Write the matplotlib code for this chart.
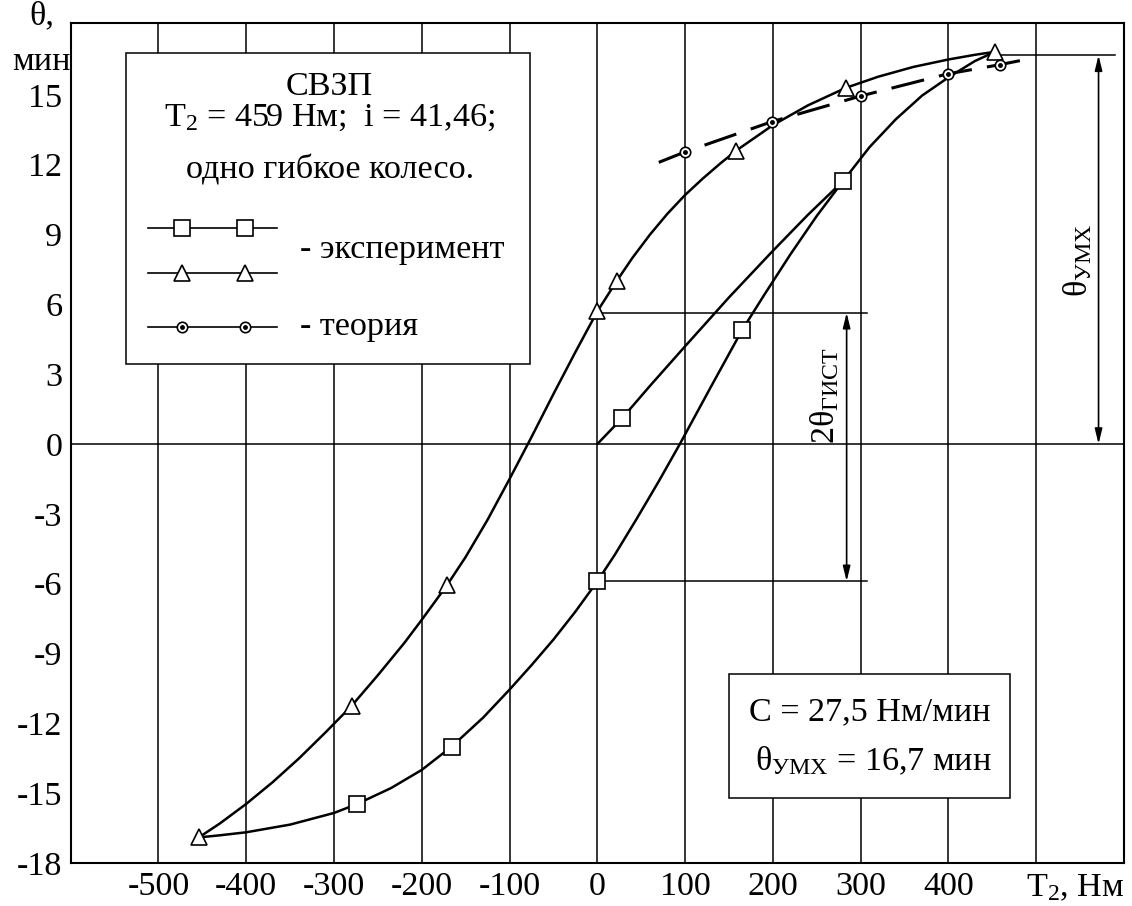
import matplotlib.pyplot as plt
from matplotlib.patches import Rectangle

plt.rcParams['font.family'] = ['Liberation Serif', 'DejaVu Serif']
plt.rcParams['mathtext.fontset'] = 'custom'
plt.rcParams['mathtext.rm'] = 'Liberation Serif'
plt.rcParams['mathtext.it'] = 'Liberation Serif:italic'

# Initial loading curve (from 0)
init_x = [0, 28, 60, 100, 150, 200, 240, 280]
init_y = [0.0, 1.1, 2.5, 4.2, 6.3, 8.3, 9.85, 11.3]

# Upper branch (triangles)
up_x = [-454, -430, -400, -370, -340, -310, -280, -250, -220, -200, -171, -150,
        -125, -100, -75, -50, -25, 0, 22, 40, 60, 80, 100, 120, 140, 158, 200,
        240, 283, 320, 360, 400, 430, 453]
up_y = [-16.9, -16.3, -15.46, -14.53, -13.51, -12.4, -11.25, -9.93, -8.55, -7.55,
        -6.05, -4.85, -3.25, -1.5, 0.3, 2.15, 3.95, 5.7, 7.0, 8.0, 9.0, 9.9, 10.7,
        11.4, 12.05, 12.6, 13.7, 14.55, 15.3, 15.78, 16.2, 16.52, 16.72, 16.85]

# Lower branch (squares)
low_x = [453, 430, 400, 370, 340, 310, 280, 250, 220, 190, 165, 130, 112, 94, 70,
         45, 20, 0, -25, -50, -75, -100, -130, -166, -200, -235, -274, -300, -350,
         -400, -430, -454]
low_y = [16.85, 16.45, 15.75, 14.97, 13.95, 12.75, 11.3, 9.8, 8.15, 6.4, 4.9, 2.5,
         1.25, 0.0, -1.6, -3.2, -4.75, -5.9, -7.2, -8.4, -9.5, -10.55, -11.75, -13.0,
         -14.0, -14.78, -15.47, -15.85, -16.35, -16.68, -16.81, -16.9]

# Markers
sq_x = [28, 165, 280, 0, -166, -274]
sq_y = [1.1, 4.9, 11.3, -5.9, -13.0, -15.47]
tri_x = [-454, -280, -171, 0, 22, 158, 283, 453]
tri_y = [-16.9, -11.25, -6.05, 5.7, 7.0, 12.6, 15.3, 16.85]

# Theory
th_x = [70, 100, 199, 300, 399, 459, 492]
th_y = [12.1, 12.55, 13.85, 14.95, 15.9, 16.3, 16.55]
thm_x = [100, 199, 300, 399, 459]
thm_y = [12.55, 13.85, 14.95, 15.9, 16.3]

theta_max = 16.7
theta_hyst_top = 5.64
theta_hyst_bot = -5.9

xticks = [-500, -400, -300, -200, -100, 0, 100, 200, 300, 400]
yticks = [-18, -15, -12, -9, -6, -3, 0, 3, 6, 9, 12, 15]

fig = plt.figure(figsize=(11.32, 9.06), dpi=100)
ax = fig.add_axes([70.7 / 1132, 1 - 863 / 906, (1124 - 70.7) / 1132, (863 - 22.7) / 906])
ax.set_xlim(-600, 600)
ax.set_ylim(-18, 18.1)

fs = 24.6
k = 'black'

for gx in [-500, -400, -300, -200, -100, 0, 100, 200, 300, 400, 500]:
    ax.axvline(gx, color=k, lw=1.1, zorder=1)
ax.axhline(0, color=k, lw=1.1, zorder=1)

for s in ax.spines.values():
    s.set_linewidth(1.5)

ax.set_xticks(xticks)
ax.set_yticks(yticks)
ax.tick_params(length=0, labelsize=fs, pad=6)
ax.set_xticklabels([str(v) for v in xticks])
ax.set_yticklabels([str(v) for v in yticks])

ax.text(600, -18.4, 'T$_2$, Нм', fontsize=fs, ha='right', va='top', clip_on=False)
fig.text(42 / 1132, 1 - 16 / 906, 'θ,', fontsize=fs, ha='center', va='center')
fig.text(41 / 1132, 1 - 62 / 906, 'мин', fontsize=fs, ha='center', va='center')

# curves
lw = 1.8
line_kw = dict(color=k, lw=lw, zorder=3, solid_joinstyle='round', solid_capstyle='round')
ax.plot(init_x, init_y, **line_kw)
ax.plot(up_x, up_y, **line_kw)
ax.plot(low_x, low_y, **line_kw)
ax.plot(th_x, th_y, color=k, lw=2.2, ls=(0, (11, 5)), zorder=3)

ax.plot(sq_x, sq_y, ls='none', marker='s', ms=11, mfc='white', mec=k, mew=1.2, zorder=5)
ax.plot(tri_x, tri_y, ls='none', marker='^', ms=11, mfc='white', mec=k, mew=1.2, zorder=5)
ax.plot(thm_x, thm_y, ls='none', marker='o', ms=7.5, mfc='white', mec=k, mew=1.2, zorder=5)
ax.plot(thm_x, thm_y, ls='none', marker='o', ms=2.5, mfc=k, mec=k, zorder=6)

# hysteresis annotation
ax.plot([458, 590], [theta_max, theta_max], color=k, lw=1.1, zorder=2)
ax.plot([0, 307], [theta_hyst_top, theta_hyst_top], color=k, lw=1.1, zorder=2)
ax.plot([0, 307], [theta_hyst_bot, theta_hyst_bot], color=k, lw=1.1, zorder=2)
arrow = dict(arrowstyle='<|-|>,head_length=0.9,head_width=0.22', color=k, lw=1.2,
             shrinkA=0, shrinkB=0)
ax.annotate('', xy=(571, 0), xytext=(571, theta_max), arrowprops=arrow, zorder=4)
ax.annotate('', xy=(284, theta_hyst_bot), xytext=(284, theta_hyst_top), arrowprops=arrow, zorder=4)
ax.text(547, 7.9, 'θ$_\\mathrm{УМХ}$', fontsize=fs, rotation=90, ha='center', va='center', zorder=4)
ax.text(259, 2.1, '2θ$_\\mathrm{ГИСТ}$', fontsize=fs, rotation=90, ha='center', va='center', zorder=4)

# legend box
ax.add_patch(Rectangle((-537, 3.44), 460, 13.36, facecolor='white', edgecolor=k, lw=1.1, zorder=7))
ax.text(-305, 15.35, 'СВЗП', fontsize=fs, ha='center', va='center', zorder=8)
ax.text(-305, 14.0, 'T$_2$ = 459 Нм;  i = 41,46;', fontsize=fs, ha='center', va='center', zorder=8)
ax.text(-305, 11.77, 'одно гибкое колесо.', fontsize=fs, ha='center', va='center', zorder=8)
for ly, mk, ms in [(9.3, 's', 11), (7.36, '^', 11), (5.04, 'o', 7.5)]:
    ax.plot([-512, -365], [ly, ly], color=k, lw=1.2, zorder=8)
    ax.plot([-473, -401], [ly, ly], ls='none', marker=mk, ms=ms, mfc='white', mec=k, mew=1.2, zorder=9)
ax.plot([-473, -401], [5.04, 5.04], ls='none', marker='o', ms=2.5, mfc=k, mec=k, zorder=10)
ax.text(-339, 8.33, '- эксперимент', fontsize=fs, ha='left', va='center', zorder=8)
ax.text(-339, 5.04, '- теория', fontsize=fs, ha='left', va='center', zorder=8)

# info box
ax.add_patch(Rectangle((150, -15.2), 320, 5.32, facecolor='white', edgecolor=k, lw=1.1, zorder=7))
ax.text(310, -11.5, 'C = 27,5 Нм/мин', fontsize=fs, ha='center', va='center', zorder=8)
ax.text(314, -13.6, 'θ$_\\mathrm{УМХ}$ = 16,7 мин', fontsize=fs, ha='center', va='center', zorder=8)

fig.savefig('out.png', dpi=100)
